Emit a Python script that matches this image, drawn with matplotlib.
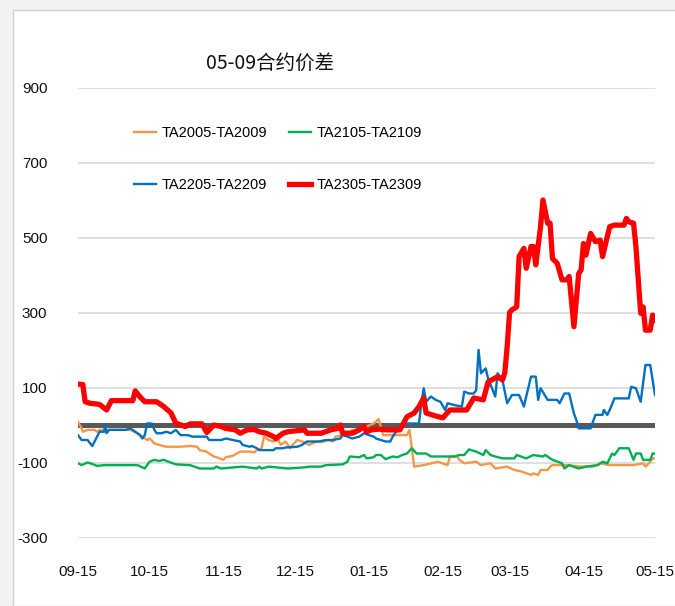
import matplotlib
matplotlib.use('Agg')
from matplotlib import pyplot as plt
from matplotlib.patches import Rectangle

# values; x = days since 09-15
ta2005_days = [0, 1.5, 2, 4, 7, 8, 9, 22, 25, 27, 29, 30, 32, 34, 37, 43, 47, 50, 51, 54, 55, 57, 59, 61, 62, 65,
               68, 72, 74, 75, 77, 78, 80, 82, 84, 85, 87, 89, 90, 92, 94, 97, 100, 102, 105, 107, 108, 111, 113,
               115, 118, 121, 124, 125, 126, 127, 128, 138, 139, 140, 141, 145, 151, 155, 156, 159, 160, 162, 167,
               169, 173, 175, 180, 183, 186, 190, 191, 193, 194, 197, 198, 199, 205, 211, 216, 219, 223, 233, 237,
               238, 240, 241, 242]
ta2005 = [9, -9, -18, -13, -13, -18, -13, -13, -22, -31, -40, -36, -49, -53, -58, -58, -56, -58, -67, -71, -76, -84,
          -88, -93, -86, -82, -71, -71, -73, -67, -62, -31, -40, -44, -40, -53, -44, -62, -53, -40, -44, -53, -44,
          -46, -40, -44, -31, -27, -22, -13, -13, -4, 4, 9, 16, -4, -27, -27, -13, -62, -111, -107, -98, -107, -84,
          -84, -93, -102, -98, -107, -102, -116, -111, -120, -124, -133, -129, -133, -120, -120, -111, -107, -107,
          -111, -111, -102, -107, -107, -102, -111, -98, -89, -89]

ta2105_days = [0, 1.5, 4, 6, 8, 11, 25, 28, 30, 32, 34, 36, 38, 41, 47, 51, 57, 58, 60, 69, 75, 76, 77, 80, 88, 95,
               97, 102, 104, 111, 113, 114, 118, 120, 121, 124, 125, 127, 129, 132, 134, 136, 138, 140, 142, 146,
               148, 158, 160, 162, 164, 167, 170, 171, 173, 175, 178, 183, 184, 188, 191, 195, 196, 199, 203, 204,
               206, 210, 213, 218, 220, 222, 224, 225, 227, 231, 233, 234, 236, 237, 240, 241, 242]
ta2105 = [-102, -107, -100, -104, -109, -107, -107, -116, -98, -93, -96, -93, -98, -105, -107, -116, -116, -111,
          -116, -111, -116, -111, -116, -111, -116, -113, -111, -111, -107, -105, -98, -84, -86, -80, -89, -86, -80,
          -80, -91, -84, -86, -80, -76, -62, -76, -76, -84, -84, -80, -80, -65, -71, -80, -67, -80, -84, -89, -89,
          -80, -89, -80, -84, -80, -93, -102, -116, -107, -116, -111, -107, -98, -102, -76, -80, -62, -62, -93, -76,
          -76, -93, -93, -76, -76]

ta2205_days = [0, 1.5, 4, 6, 8, 9, 11, 11.3, 12, 13, 20, 22, 26, 27, 28, 29, 31, 32, 33, 35, 37, 39, 41, 43, 46,
               48, 54, 55, 57, 60, 62, 65, 68, 69, 72, 73, 75, 76, 82, 83, 86, 87, 92, 94, 96, 101, 104, 107, 110,
               111, 113, 115, 118, 120, 122, 124, 125, 127, 129, 131, 132, 134, 135, 136, 143, 144, 145, 146, 148,
               150, 152, 154, 155, 158, 161, 162, 164, 166, 167, 168, 169, 171, 172, 175, 176, 178, 180, 182, 185,
               187, 188, 190, 192, 193, 194, 197, 201, 202, 204, 206, 208, 209, 210, 215, 217, 220, 220.5, 222, 223,
               225, 231, 232, 234, 236, 238, 240, 242]
ta2205 = [-27, -40, -40, -56, -31, -18, -18, 0, -22, -13, -13, -9, -27, -36, -27, 4, 4, -13, -22, -22, -18, -22,
          -13, -27, -27, -31, -31, -40, -40, -40, -36, -40, -44, -53, -58, -56, -62, -67, -67, -62, -62, -60, -58,
          -53, -44, -44, -40, -40, -36, -27, -31, -36, -31, -22, -27, -31, -36, -40, -44, -44, -31, -13, 0, 4, 4, 58,
          98, 62, 76, 67, 62, 40, 58, 53, 49, 89, 84, 84, 93, 200, 138, 151, 124, 76, 138, 120, 58, 80, 80, 49, 76,
          129, 129, 67, 98, 67, 67, 58, 84, 84, 31, 13, -9, -9, 27, 27, 40, 27, 40, 71, 71, 102, 98, 62, 160, 160, 80]

ta2305_days = [0, 2, 3, 5, 9, 12, 14, 23, 24, 26, 28, 33, 36, 39, 41, 45, 47, 52, 54, 57, 60, 62, 66, 68, 71, 74,
               76, 79, 82, 83, 86, 88, 95, 96, 102, 106, 109, 110, 111, 115, 118, 120, 121, 123, 126, 130, 135, 138,
               141, 143, 145, 146, 150, 153, 156, 163, 166, 170, 172, 176, 178, 179, 180, 181, 182, 184, 185, 187,
               188, 190, 191, 192, 194, 195, 197, 198, 199, 201, 203, 205, 206, 208, 210, 211, 212, 213, 215, 217,
               219, 220, 223, 225, 229, 230, 231, 233, 234, 236, 237, 238, 240, 241, 242]
ta2305 = [109, 108, 62, 58, 55, 40, 65, 65, 91, 75, 62, 62, 49, 32, 5, -4, 3, 3, -20, 0, -4, -9, -13, -22, -13,
          -12, -18, -22, -31, -36, -22, -18, -13, -22, -22, -13, -9, 0, -22, -22, -13, -4, -18, -13, -11, -13, -13,
          22, 32, 49, 72, 32, 24, 19, 40, 40, 72, 67, 115, 129, 120, 139, 209, 300, 307, 315, 449, 471, 418, 476,
          476, 427, 529, 600, 538, 538, 444, 431, 387, 387, 396, 262, 404, 413, 484, 453, 511, 489, 493, 449, 529,
          533, 533, 551, 542, 538, 476, 298, 315, 253, 253, 293, 280]

tick_days = [0, 30, 61, 91, 122, 153, 181, 212, 242]
tick_labels = ['09-15', '10-15', '11-15', '12-15', '01-15', '02-15', '03-15', '04-15', '05-15']
y_ticks = [900, 700, 500, 300, 100, -100, -300]

plt.rcParams['font.family'] = ['Liberation Sans', 'DejaVu Sans']
plt.rcParams['axes.unicode_minus'] = False

fig = plt.figure(figsize=(6.75, 6.06), dpi=100, facecolor='#f2f2f2')
fig.patches.append(Rectangle((13 / 675, 0), 1, 1 - 10 / 606, transform=fig.transFigure,
                             facecolor='white', edgecolor='#d0d0d0', lw=1, zorder=-10))
ax = fig.add_axes([78 / 675, 68.5 / 606, 577 / 675, 450 / 606])
ax.set_zorder(5)
ax.set_facecolor('none')

ax.axhline(0, color='#595959', lw=3.6, zorder=1)
l1, = ax.plot(ta2005_days, ta2005, color='#F79646', lw=1.7, label='TA2005-TA2009', zorder=2)
l2, = ax.plot(ta2105_days, ta2105, color='#00B050', lw=1.7, label='TA2105-TA2109', zorder=2)
l3, = ax.plot(ta2205_days, ta2205, color='#0070C0', lw=1.7, label='TA2205-TA2209', zorder=2)
l4, = ax.plot(ta2305_days, ta2305, color='#FF0000', lw=3.8, label='TA2305-TA2309', zorder=3)

ax.set_xlim(0, 242)
ax.set_ylim(-300, 900)
ax.set_yticks(y_ticks)
ax.set_xticks(tick_days)
ax.set_xticklabels(tick_labels)
ax.grid(axis='y', color='#d9d9d9', lw=1.2)
ax.set_axisbelow(True)
for s in ax.spines.values():
    s.set_visible(False)
ax.tick_params(length=0, labelsize=11, colors='#111111')
ax.tick_params(axis='y', pad=22)
ax.tick_params(axis='x', pad=20)

ax.legend([l1, l3, l2, l4], [l.get_label() for l in [l1, l3, l2, l4]], ncol=2, frameon=False,
          loc='upper left', bbox_to_anchor=(134 / 675, 1 - 126 / 606), bbox_transform=fig.transFigure,
          borderpad=0, borderaxespad=0, fontsize=10.5, handlelength=1.5, handletextpad=0.4,
          labelspacing=2.6, columnspacing=1.5)

fig.text(270 / 675, 1 - 63 / 606, '05-09合约价差', ha='center', va='center', fontsize=14,
         family=['Noto Sans CJK SC', 'DejaVu Sans'], color='#111111')

fig.savefig('out.png', dpi=100, facecolor=fig.get_facecolor())
